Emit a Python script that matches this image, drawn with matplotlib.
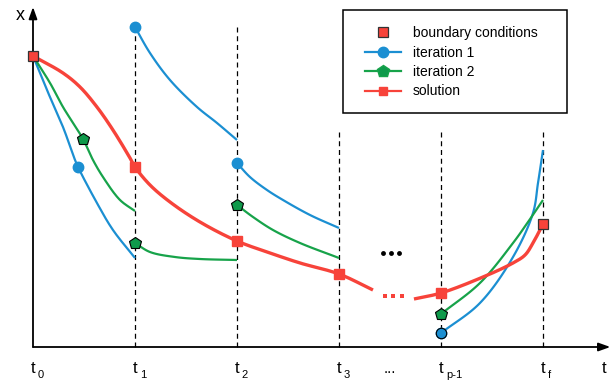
import numpy as np
import matplotlib.pyplot as plt
from matplotlib.lines import Line2D
from matplotlib.patches import Rectangle

plt.rcParams['font.family'] = ['Liberation Sans', 'DejaVu Sans']

blue = '#1b8fd2'
green = '#17a34a'
red = '#f7433a'

# time grid labels
grid_t = [1, 2, 3, 4, 5]
grid_top = [3.20, 3.20, 2.18, 2.18, 2.18]
tick_t = [0, 1, 2, 3, 4, 5]
tick_sub = ['0', '1', '2', '3', 'p-1', 'f']

# boundary conditions
bc_t = [0, 5]
bc_x = [2.91, 1.23]

# solution
sol_t = [0, 0.294, 0.461, 0.627, 0.784, 0.951, 1.0, 1.147, 1.343, 1.637, 2.0, 2.324, 2.618, 3.0, 3.333]
sol_x = [2.91, 2.74, 2.60, 2.40, 2.17, 1.89, 1.80, 1.62, 1.45, 1.25, 1.06, 0.94, 0.84, 0.73, 0.57]
sol_tail_t = [3.735, 4.0, 4.412, 4.706, 4.824, 4.902, 5.0]
sol_tail_x = [0.48, 0.54, 0.70, 0.84, 0.92, 1.04, 1.23]
sol_mark_t = [1, 2, 3, 4]
sol_mark_x = [1.80, 1.06, 0.73, 0.54]

# iteration 1
it1_segs = [
    ([0, 0.137, 0.294, 0.412, 0.441, 0.627, 0.784, 1.0],
     [2.91, 2.57, 2.20, 1.87, 1.80, 1.44, 1.17, 0.89]),
    ([1.0, 1.147, 1.343, 1.608, 1.804, 2.0],
     [3.20, 2.94, 2.67, 2.40, 2.24, 2.07]),
    ([2.0, 2.127, 2.294, 2.451, 2.716, 3.0],
     [1.84, 1.70, 1.57, 1.47, 1.32, 1.19]),
    ([4.0, 4.382, 4.706, 4.902, 4.951, 5.0],
     [0.14, 0.44, 0.90, 1.34, 1.64, 1.97]),
]
it1_mark_t = [0.441, 1.0, 2.0, 4.0]
it1_mark_x = [1.80, 3.20, 1.84, 0.14]

# iteration 2
it2_segs = [
    ([0, 0.167, 0.294, 0.490, 0.588, 0.686, 0.853, 1.0],
     [2.91, 2.64, 2.40, 2.08, 1.87, 1.70, 1.47, 1.36]),
    ([1.0, 1.147, 1.392, 1.637, 2.0],
     [1.04, 0.95, 0.90, 0.88, 0.87]),
    ([2.0, 2.157, 2.353, 2.618, 3.0],
     [1.42, 1.30, 1.17, 1.04, 0.89]),
    ([4.0, 4.382, 4.706, 4.853, 5.0],
     [0.33, 0.64, 1.04, 1.25, 1.47]),
]
it2_mark_t = [0.490, 1.0, 2.0, 4.0]
it2_mark_x = [2.08, 1.04, 1.42, 0.33]


def smooth(t, x, n=24):
    # centripetal Catmull-Rom through the given points, for drawing only
    p = np.column_stack([t, x]).astype(float)
    p = np.vstack([2 * p[0] - p[1], p, 2 * p[-1] - p[-2]])
    out = []
    for i in range(1, len(p) - 2):
        p0, p1, p2, p3 = p[i - 1:i + 3]
        k0 = 0.0
        k1 = k0 + np.linalg.norm(p1 - p0) ** 0.5
        k2 = k1 + np.linalg.norm(p2 - p1) ** 0.5
        k3 = k2 + np.linalg.norm(p3 - p2) ** 0.5
        u = np.linspace(k1, k2, n)[:, None]
        a1 = (k1 - u) / (k1 - k0) * p0 + (u - k0) / (k1 - k0) * p1
        a2 = (k2 - u) / (k2 - k1) * p1 + (u - k1) / (k2 - k1) * p2
        a3 = (k3 - u) / (k3 - k2) * p2 + (u - k2) / (k3 - k2) * p3
        b1 = (k2 - u) / (k2 - k0) * a1 + (u - k0) / (k2 - k0) * a2
        b2 = (k3 - u) / (k3 - k1) * a2 + (u - k1) / (k3 - k1) * a3
        c = (k2 - u) / (k2 - k1) * b1 + (u - k1) / (k2 - k1) * b2
        out.append(c if i == 1 else c[1:])
    c = np.vstack(out)
    return c[:, 0], c[:, 1]


fig = plt.figure(figsize=(6.16, 3.85), dpi=100)
ax = fig.add_axes([0, 0, 1, 1])
ax.set_xlim(-0.3235, 5.7157)
ax.set_ylim(-0.38, 3.47)
ax.axis('off')

# axes with arrows
arr = dict(arrowstyle='-|>,head_length=0.7,head_width=0.25', color='black', lw=1.3,
           shrinkA=0, shrinkB=0)
ax.annotate('', xy=(0, 3.40), xytext=(0, 0), arrowprops=arr)
ax.annotate('', xy=(5.66, 0), xytext=(0, 0), arrowprops=arr)

ax.vlines(grid_t, 0, grid_top, colors='black', linestyles=(0, (4, 3)), lw=0.9)

for t_, x_ in it1_segs:
    ax.plot(*smooth(t_, x_), color=blue, lw=1.6, solid_capstyle='butt')
for t_, x_ in it2_segs:
    ax.plot(*smooth(t_, x_), color=green, lw=1.6, solid_capstyle='butt')
ax.plot(*smooth(sol_t, sol_x), color=red, lw=2.4, solid_capstyle='butt')
ax.plot(*smooth(sol_tail_t, sol_tail_x), color=red, lw=2.4, solid_capstyle='butt')

ax.plot(it1_mark_t, it1_mark_x, 'o', color=blue, ms=7.5, mec=blue, zorder=5)
ax.plot([4.0], [0.14], 'o', color=blue, ms=7.5, mec='black', mew=0.8, zorder=5)
ax.plot(it2_mark_t, it2_mark_x, 'p', color='#0f9a4b', ms=9, mec='black', mew=0.8, zorder=5)
ax.plot(sol_mark_t, sol_mark_x, 's', color=red, ms=7, mec=red, zorder=5)
ax.plot(bc_t, bc_x, 's', color=red, ms=6.5, mec='#333333', mew=0.9, zorder=6)

# gap markers between t3 and t_p-1
ax.plot([3.451, 3.529, 3.618], [0.51] * 3, 's', color=red, ms=3, mew=0)
ax.plot([3.431, 3.510, 3.588], [0.94] * 3, 'o', color='black', ms=3.5, mew=0)

# tick labels
for t_, s in zip(tick_t, tick_sub):
    ax.annotate('t', xy=(t_, 0), xytext=(0, -18.5), textcoords='offset points',
                ha='center', va='baseline', fontsize=12)
    ax.annotate(s, xy=(t_, 0), xytext=(3.5, -22), textcoords='offset points',
                ha='left', va='baseline', fontsize=8)
ax.annotate('...', xy=(3.5, 0), xytext=(0, -18.5), textcoords='offset points',
            ha='center', va='baseline', fontsize=11)
ax.annotate('t', xy=(5.60, 0), xytext=(0, -18.5), textcoords='offset points',
            ha='center', va='baseline', fontsize=12)
ax.text(-0.127, 3.32, 'x', ha='center', va='center', fontsize=13)

handles = [
    Line2D([], [], ls='none', marker='s', color=red, mec='#333333', ms=6.5, mew=0.9),
    Line2D([], [], color=blue, lw=1.6, marker='o', ms=7.5),
    Line2D([], [], color=green, lw=1.6, marker='p', ms=9, mfc='#0f9a4b', mec=green),
    Line2D([], [], color=red, lw=1.6, marker='s', ms=6),
]
labels = ['boundary conditions', 'iteration 1', 'iteration 2', 'solution']
ax.legend(handles, labels, loc='upper left', bbox_to_anchor=(0.5925, 0.932),
          fontsize=10, frameon=False, borderaxespad=0, borderpad=0,
          labelspacing=0.39, handlelength=2.6, handletextpad=0.85, numpoints=1)
ax.add_patch(Rectangle((0.5568, 0.7065), 0.3636, 0.2675, transform=ax.transAxes,
                       fill=False, ec='black', lw=1.1, zorder=4))

fig.savefig('out.png', dpi=100)
